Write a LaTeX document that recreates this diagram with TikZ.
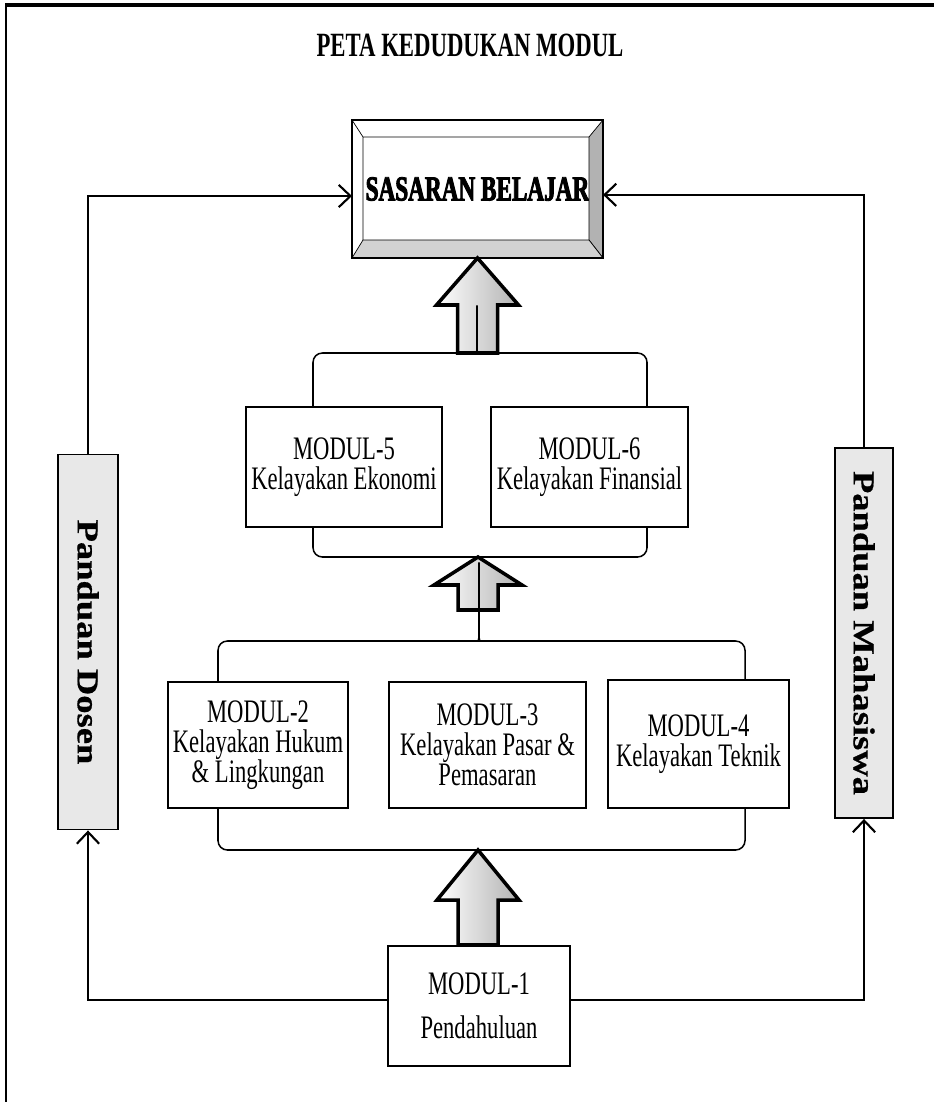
\documentclass[tikz,border=0pt]{standalone}
\usepackage{fontspec}
\usepackage{graphicx}
\usetikzlibrary{calc, arrows.meta}
\setmainfont{Liberation Serif}
\newfontfamily\modfont[FakeStretch = 0.69]{Liberation Serif}
\newfontfamily\titlefont[FakeStretch = 0.67]{Liberation Serif}
\newfontfamily\goalfont[FakeStretch = 0.66, FakeBold = 2.5]{Liberation Serif}
\newfontfamily\guidefont[FakeStretch = 1.2, FakeBold = 0.6]{Liberation Serif}

% block arrow: foot, tip, head length, head half width
\newcommand{\blockarrow}[4]{%
    \path (#2) ++(-20,0) coordinate (bl) (#2) ++(20,0) coordinate (br);
    \filldraw[bigarrow] (bl |- #1) -- ($(bl)+(0,#3)$) -- ($(#2)+(-#4,#3)$) -- (#2)
        -- ($(#2)+(#4,#3)$) -- ($(br)+(0,#3)$) -- (br |- #1) -- cycle;}

\begin{document}
\begin{tikzpicture}[x = 0.03cm, y = -0.03cm,
    modbox/.style = {draw, line width = 1.8pt, fill = white, align = center, inner sep = 2pt,
        font = \modfont\fontsize{28}{25.5}\selectfont},
    guidebox/.style = {draw, line width = 1.6pt, fill = gray!18, minimum width = 1.8cm,
        minimum height = 11.25cm, font = \guidefont\bfseries\fontsize{26}{30}\selectfont},
    link/.style = {line width = 1.8pt, -{Straight Barb[length = 10pt, width = 19pt]}},
    brace/.style = {line width = 1.3pt, rounded corners = 8pt},
    bigarrow/.style = {line width = 3pt, line join = miter, left color = white, right color = gray!60}]
    \useasboundingbox (0,0) rectangle (934,1102);
    \fill[white] (0,0) rectangle (934,1102);
    % frame
    \draw[line width = 1.5pt] (6,1102) -- (6,5);
    \draw[line width = 3pt] (5,5) -- (934,5);
    \node (title) at (470,45) {\titlefont\bfseries\fontsize{29}{32}\selectfont PETA KEDUDUKAN MODUL};

    % goal box with bevel
    \node[draw, line width = 1.6pt, outer sep = 0pt, fill = white, minimum width = 7.53cm,
        minimum height = 4.14cm, font = \goalfont\bfseries\fontsize{30}{32}\selectfont]
        (goal) at (477.5,189) {SASARAN BELAJAR};
    \coordinate (gnw) at ($(goal.north west)+(11,17)$);
    \coordinate (gne) at ($(goal.north east)+(-14,17)$);
    \coordinate (gse) at ($(goal.south east)+(-14,-18)$);
    \coordinate (gsw) at ($(goal.south west)+(11,-18)$);
    \filldraw[fill = gray!60, line width = 0.6pt] (goal.north east) -- (goal.south east) -- (gse) -- (gne) -- cycle;
    \filldraw[fill = gray!35, line width = 0.6pt] (goal.south west) -- (goal.south east) -- (gse) -- (gsw) -- cycle;
    \draw[line width = 0.6pt] (goal.north west) -- (gnw) -- (gne) (gnw) -- (gsw);
    \draw[line width = 1.6pt] (goal.north west) rectangle (goal.south east);

    % modules
    \node[modbox, minimum width = 5.88cm, minimum height = 3.6cm] (m5) at (344,467) {MODUL-5\\Kelayakan Ekonomi};
    \node[modbox, minimum width = 5.91cm, minimum height = 3.6cm] (m6) at (589.5,467) {MODUL-6\\Kelayakan Finansial};
    \node[modbox, minimum width = 5.4cm, minimum height = 3.78cm] (m2) at (258,745) {MODUL-2\\Kelayakan Hukum\\\& Lingkungan};
    \node[modbox, minimum width = 5.91cm, minimum height = 3.78cm] (m3) at (487.5,745) {MODUL-3\\Kelayakan Pasar \&\\Pemasaran};
    \node[modbox, minimum width = 5.43cm, minimum height = 3.84cm] (m4) at (698.5,744) {MODUL-4\\Kelayakan Teknik};
    \node[modbox, minimum width = 5.46cm, minimum height = 3.6cm] (m1) at (479,1006) {MODUL-1\\[12pt]Pendahuluan};

    % guides
    \node[guidebox] (dosen) at (88,642) {\rotatebox{-90}{Panduan Dosen}};
    \node[guidebox, minimum width = 1.74cm, minimum height = 11.1cm] (mhs) at (864,633) {\rotatebox{-90}{Panduan Mahasiswa}};

    % block arrows
    \coordinate (j1) at (477,353);
    \coordinate (j2) at (478,557);
    \coordinate (j3) at (479,641);
    \coordinate (j4) at (478,850);
    \coordinate (f2) at (478,610);
    \blockarrow{j1}{goal.south}{47}{41}
    \blockarrow{f2}{j2}{28}{44}
    \blockarrow{m1.north}{j4}{50}{41}

    % braces
    \draw[brace] ($(m5.north)+(-31,0)$) |- ($(j1)+(-8,0)$)
        .. controls ($(j1)+(-1,0)$) and ($(j1)+(0,-12)$) .. ($(j1)+(0,-53)$)
        .. controls ($(j1)+(0,-12)$) and ($(j1)+(1,0)$) .. ($(j1)+(8,0)$)
        -| ($(m6.north)+(57.5,0)$);
    \draw[brace] ($(m5.south)+(-31,0)$) |- (j2) -| ($(m6.south)+(57.5,0)$);
    \draw[brace] ($(m2.north)+(-40,0)$) |- ($(j3)+(-8,0)$)
        .. controls ($(j3)+(-1,0)$) and ($(j3)+(0,-15)$) .. ($(j3)+(0,-84)$)
        .. controls ($(j3)+(0,-15)$) and ($(j3)+(1,0)$) .. ($(j3)+(8,0)$)
        -| ($(m4.north)+(46.5,0)$);
    \draw[brace] ($(m2.south)+(-40,0)$) |- (j4) -| ($(m4.south)+(46.5,0)$);

    % links
    \draw[link] (dosen.north) |- ([yshift = -6pt]goal.west);
    \draw[link] (mhs.north) |- ([yshift = -5pt]goal.east);
    \draw[link] ([yshift = 5pt]m1.west) -| (dosen.south);
    \draw[link] ([yshift = 5pt]m1.east) -| (mhs.south);
\end{tikzpicture}
\end{document}
